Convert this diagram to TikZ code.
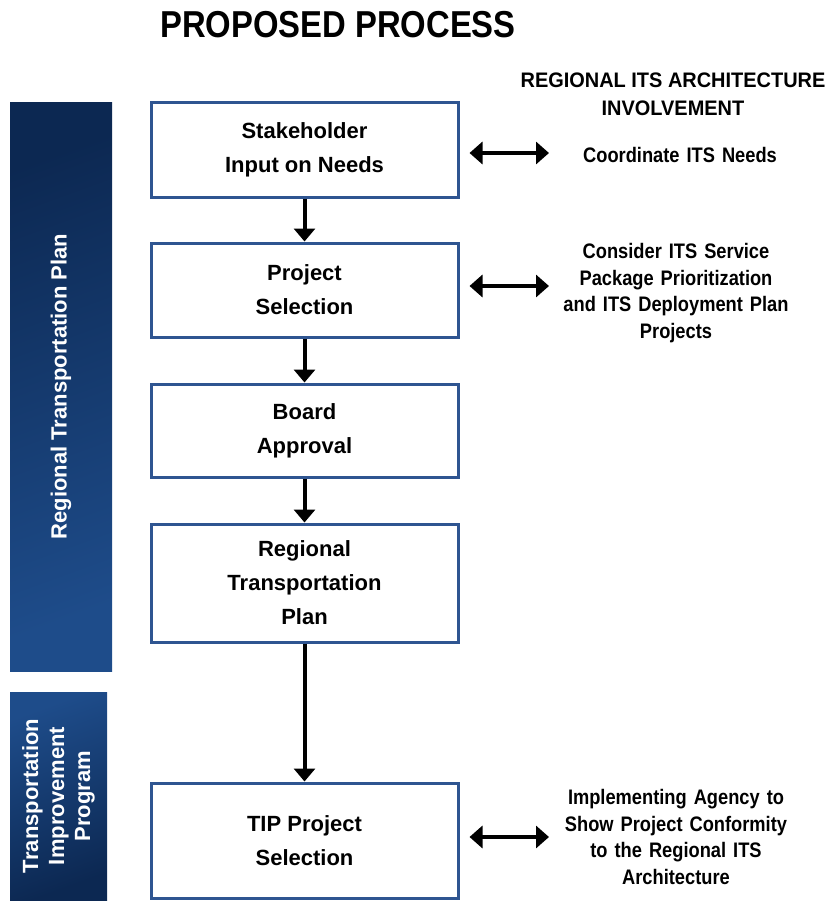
\documentclass[tikz,border=0pt]{standalone}
\usepackage{fontspec}
\setmainfont{Liberation Sans}
\newfontfamily\titlefont{Liberation Sans}[FakeStretch=0.875]
\newfontfamily\notefont{Liberation Sans}[FakeStretch=0.87]
\newfontfamily\headfont{Liberation Sans}[FakeStretch=0.95]
\usetikzlibrary{arrows.meta}
\definecolor{boxblue}{RGB}{47,85,145}
\definecolor{navydark}{RGB}{12,40,82}
\definecolor{navylight}{RGB}{30,76,138}

\begin{document}
\begin{tikzpicture}[x=1pt, y=-1pt,
  stepbox/.style={draw=boxblue, line width=3pt, fill=white, minimum width=307pt, align=center, inner sep=0pt, font=\bfseries\fontsize{22}{34}\selectfont},
  sidebar/.style={rotate=90, align=center, text=white, inner sep=0pt, font=\bfseries\fontsize{22}{26}\selectfont},
  note/.style={text width=240pt, align=center, inner sep=0pt, font=\notefont\bfseries\fontsize{21}{26.7}\selectfont},
  flow/.style={-{Triangle[width=21pt, length=13pt]}, line width=4pt},
  link/.style={{Triangle[width=22pt, length=13pt]}-{Triangle[width=22pt, length=13pt]}, line width=4pt}]
\useasboundingbox (0,0) rectangle (831,902);
\node[font=\titlefont\bfseries\fontsize{37.5}{40}\selectfont] (title) at (338,25) {PROPOSED PROCESS};
\node[align=center, inner sep=0pt, font=\headfont\bfseries\fontsize{21}{28}\selectfont] (head) at (673,94) {REGIONAL ITS ARCHITECTURE\\INVOLVEMENT};
% side bands
\node[sidebar, minimum width=569pt, minimum height=102pt, left color=navydark, right color=navylight, shading angle=20] (rtp) at (61,386.5) {Regional Transportation Plan};
\node[sidebar, minimum width=208pt, minimum height=97pt, left color=navylight, right color=navydark, shading angle=20] (tip) at (58.5,796) {Transportation\\Improvement\\Program};
% process boxes
\node[stepbox, minimum height=95pt] (stake) at (304.5,149.5) {Stakeholder\\Input on Needs};
\node[stepbox, minimum height=94pt] (select) at (304.5,290) {Project\\Selection};
\node[stepbox, minimum height=93pt] (board) at (304.5,430.5) {Board\\Approval};
\node[stepbox, minimum height=118pt] (plan) at (304.5,583) {Regional\\Transportation\\Plan};
\node[stepbox, minimum height=115pt] (tipsel) at (304.5,840.5) {TIP Project\\Selection};
\draw[flow] (stake) -- (select);
\draw[flow] (select) -- (board);
\draw[flow] (board) -- (plan);
\draw[flow] (plan) -- (tipsel);
% architecture involvement
\node[note] (needs) at (680,155) {Coordinate ITS Needs};
\node[note] (consider) at (676,293) {Consider ITS Service\\Package Prioritization\\and ITS Deployment Plan\\Projects};
\node[note] (conform) at (676,837) {Implementing Agency to\\Show Project Conformity\\to the Regional ITS\\Architecture};
\coordinate (rcol) at (549,0);
\draw[link] ([xshift=10pt, yshift=-3.5pt]stake.east) -- ([yshift=-3.5pt]stake.east -| rcol);
\draw[link] ([xshift=10pt, yshift=4pt]select.east) -- ([yshift=4pt]select.east -| rcol);
\draw[link] ([xshift=10pt, yshift=3.5pt]tipsel.east) -- ([yshift=3.5pt]tipsel.east -| rcol);
\end{tikzpicture}
\end{document}
